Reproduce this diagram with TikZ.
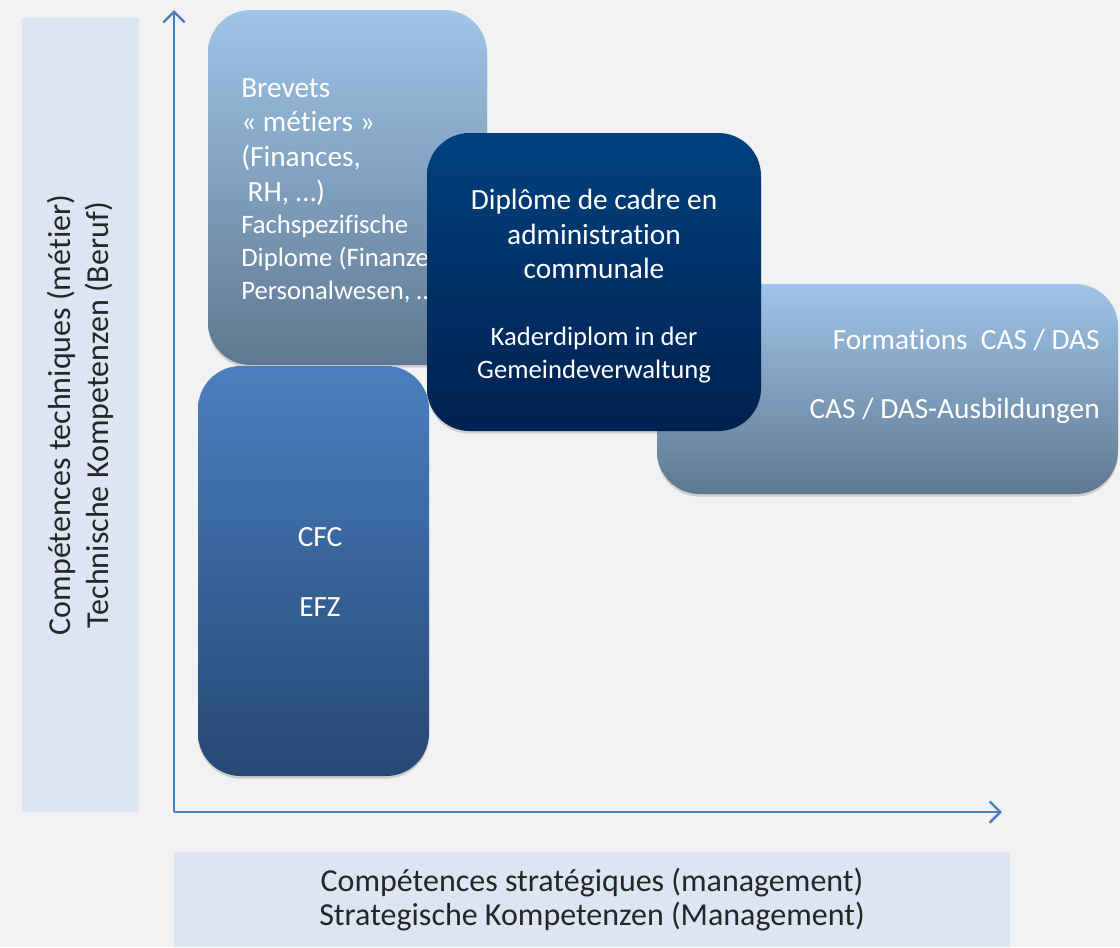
\documentclass[tikz,border=0pt]{standalone}
\usepackage{fontspec}
\setmainfont{Carlito}[Ligatures=NoCommon]
\usepackage{tikz}
\usetikzlibrary{arrows.meta, positioning, shapes, shadows}

\definecolor{axisblue}{HTML}{4A7EBB}
\definecolor{labelbg}{HTML}{DCE6F2}
\definecolor{pagebg}{HTML}{F2F2F2}
\definecolor{lighttop}{HTML}{9FC5E9}
\definecolor{lightbot}{HTML}{5F7890}
\definecolor{midtop}{HTML}{4A7FBF}
\definecolor{midbot}{HTML}{264874}
\definecolor{darktop}{HTML}{00417F}
\definecolor{darkbot}{HTML}{00214F}
\newcommand\smallfs{\fontsize{20}{24.75}\selectfont}

\begin{document}
\begin{tikzpicture}[x=0.75pt, y=-0.75pt, >={Straight Barb[length=8pt,width=16pt]},
        every node/.style={inner sep=0pt}]
        \tikzset{
          box/.style={rounded corners=32pt, draw=none,
            drop shadow={shadow xshift=0pt, shadow yshift=-2pt, opacity=.3}},
          lightbox/.style={box, top color=lighttop, bottom color=lightbot},
          midbox/.style={box, top color=midtop, bottom color=midbot},
          darkbox/.style={box, top color=darktop, bottom color=darkbot},
          boxtext/.style={text=white, font=\fontsize{22}{26}\selectfont},
          axislabel/.style={fill=labelbg, text=black!85, align=center,
            font=\fontsize{24}{25.5}\selectfont}
        }
        % fond et cadre de l'image
        \fill[pagebg] (0,0) rectangle (1120,947);
        \useasboundingbox (0,0) rectangle (1120,947);
        % etiquettes des axes
        \node[axislabel, minimum width=87.75pt, minimum height=595.5pt] (ylab) at (80.5,415) {};
        \node[rotate=90, align=center, text=black!85, font=\fontsize{24}{28.5}\selectfont] (ytext) at (ylab.center)
          {Compétences techniques (métier)\\Technische Kompetenzen (Beruf)};
        \node[axislabel, minimum width=627pt, minimum height=71.25pt] (xlab) at (592,899.5)
          {Compétences stratégiques (management)\\Strategische Kompetenzen (Management)};
        % axes
        \coordinate (o)    at (174,812);
        \coordinate (ytip) at (174,10);
        \coordinate (xtip) at (1002,812);
        \draw[->, axisblue, line width=1.8pt] (o) -- (ytip);
        \draw[->, axisblue, line width=1.8pt] (o) -- (xtip);
        % brevets metiers
        \node[lightbox, minimum width=209.25pt, minimum height=266.25pt] (brevets) at (347.5,187.5) {};
        \node[boxtext, align=left, anchor=north west] (brevetstext) at (241,78)
          {Brevets\\« métiers »\\(Finances,\\\hspace{0.22em}RH, …)\\[-1.5pt]
           \smallfs Fachspezifische\\[-1.5pt]\smallfs Diplome (Finanzen,\\[-1.5pt]\smallfs Personalwesen, …)};
        % CFC
        \node[midbox, minimum width=173.25pt, minimum height=307.5pt] (cfc) at (313.5,571) {};
        \node[boxtext, align=center] (cfctext) at (320,572) {CFC\\[26pt]EFZ};
        % CAS / DAS
        \node[lightbox, minimum width=345.75pt, minimum height=157.5pt] (cas) at (887.5,389) {};
        \node[boxtext, align=right, anchor=north east] (castext) at (1100,329)
          {Formations\ \ CAS / DAS\\[26pt]CAS / DAS-Ausbildungen};
        % diplome de cadre
        \node[darkbox, minimum width=250.5pt, minimum height=223.5pt] (cadre) at (594,282) {};
        \node[boxtext, align=center, anchor=north] (cadretext) at (594,189)
          {Diplôme de cadre en\\administration\\communale\\[24pt]
           \smallfs Kaderdiplom in der\\[-1.5pt]\smallfs Gemeindeverwaltung};
\end{tikzpicture}
\end{document}
